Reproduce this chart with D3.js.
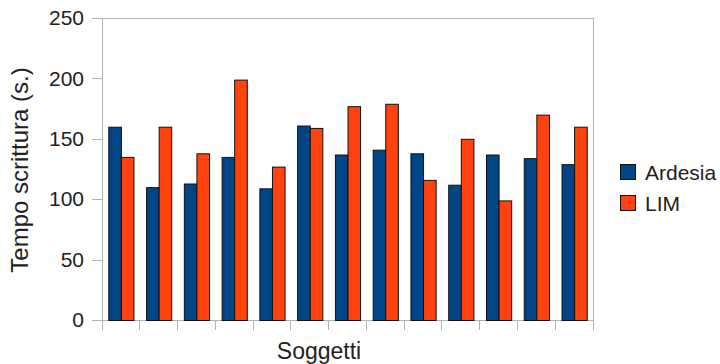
<!DOCTYPE html>
<html>
<head>
<meta charset="utf-8">
<script src="https://cdn.jsdelivr.net/npm/d3@7"></script>
<style>
  html, body { margin: 0; padding: 0; background: #fff; }
  svg { display: block; font-family: "Liberation Sans", Arial, sans-serif; }
</style>
</head>
<body>
<svg id="chart" width="720" height="364"></svg>
<script>
const categories = ["1","2","3","4","5","6","7","8","9","10","11","12","13"];
const seriesNames = ["Ardesia", "LIM"];
const ardesia = [160, 110, 113, 135, 109, 161, 137, 141, 138, 112, 137, 134, 129];
const lim     = [135, 160, 138, 199, 127, 159, 177, 179, 116, 150, 99, 170, 160];
const yTicks = [0, 50, 100, 150, 200, 250];
const colors = ["#004586", "#ff420e"];

const svg = d3.select("#chart");
const margin = { left: 102, right: 127, top: 18, bottom: 44 };
const W = 720, H = 364;
const x0 = margin.left, x1 = W - margin.right, yTop = margin.top, yBot = H - margin.bottom;

const x = d3.scaleBand().domain(categories).range([x0, x1]).padding(0);
const xs = d3.scaleBand().domain(seriesNames)
  .range([x.bandwidth() / 6, x.bandwidth() * 5 / 6]).padding(0);
const y = d3.scaleLinear().domain([0, 250]).range([yBot, yTop]);

const gridColor = "#b3b3b3";

// frame (top & right)
svg.append("line").attr("x1", x0).attr("x2", x1).attr("y1", y(250)).attr("y2", y(250))
  .attr("stroke", gridColor).attr("stroke-width", 1).attr("shape-rendering", "crispEdges");
svg.append("line").attr("x1", x1).attr("x2", x1).attr("y1", y(250)).attr("y2", y(0))
  .attr("stroke", gridColor).attr("stroke-width", 1).attr("shape-rendering", "crispEdges");

// Y axis
const yAxis = d3.axisLeft(y).tickValues(yTicks).tickSize(10).tickPadding(8);
const gy = svg.append("g").attr("transform", `translate(${x0},0)`).call(yAxis);
gy.select(".domain").attr("stroke", gridColor).attr("shape-rendering", "crispEdges");
gy.selectAll(".tick line").attr("stroke", gridColor).attr("shape-rendering", "crispEdges");
gy.selectAll(".tick text").attr("font-size", 21).attr("fill", "#222")
  .attr("font-family", "Liberation Sans, Arial, sans-serif");

// X axis (ticks at band boundaries, no labels)
const boundaries = categories.map(c => x(c)).concat([x1]);
const gx = svg.append("g");
gx.append("line").attr("x1", x0).attr("x2", x1).attr("y1", yBot).attr("y2", yBot)
  .attr("stroke", gridColor).attr("shape-rendering", "crispEdges");
gx.selectAll("line.tk").data(boundaries).join("line").attr("class", "tk")
  .attr("x1", d => d).attr("x2", d => d).attr("y1", yBot).attr("y2", yBot + 10)
  .attr("stroke", gridColor).attr("shape-rendering", "crispEdges");

// Bars
const data = categories.map((c, i) => ({ cat: c, values: [ardesia[i], lim[i]] }));
const groups = svg.append("g").selectAll("g").data(data).join("g")
  .attr("transform", d => `translate(${x(d.cat)},0)`);
groups.selectAll("rect").data(d => d.values.map((v, j) => ({ s: seriesNames[j], v, j })))
  .join("rect")
  .attr("x", d => xs(d.s) + 0.5)
  .attr("y", d => y(d.v) + 0.5)
  .attr("width", xs.bandwidth())
  .attr("height", d => y(0) - y(d.v))
  .attr("fill", d => colors[d.j])
  .attr("stroke", "#111")
  .attr("stroke-width", 1);

// Axis titles
svg.append("text").attr("x", 319).attr("y", 358.5).attr("text-anchor", "middle")
  .attr("font-size", 23).attr("fill", "#222").text("Soggetti");
svg.append("text").attr("transform", "translate(28,170) rotate(-90)")
  .attr("text-anchor", "middle").attr("font-size", 24).attr("fill", "#222")
  .text("Tempo scrittura (s.)");

// Legend
const lg = svg.append("g").attr("transform", "translate(620,164)");
const items = lg.selectAll("g").data(seriesNames).join("g")
  .attr("transform", (d, i) => `translate(0,${i * 31})`);
items.append("rect").attr("x", 0.5).attr("y", 0.5).attr("width", 15).attr("height", 15)
  .attr("fill", (d, i) => colors[i]).attr("stroke", "#111");
items.append("text").attr("x", 25).attr("y", 15.5).attr("font-size", 21).attr("fill", "#222")
  .text(d => d);
</script>
</body>
</html>
